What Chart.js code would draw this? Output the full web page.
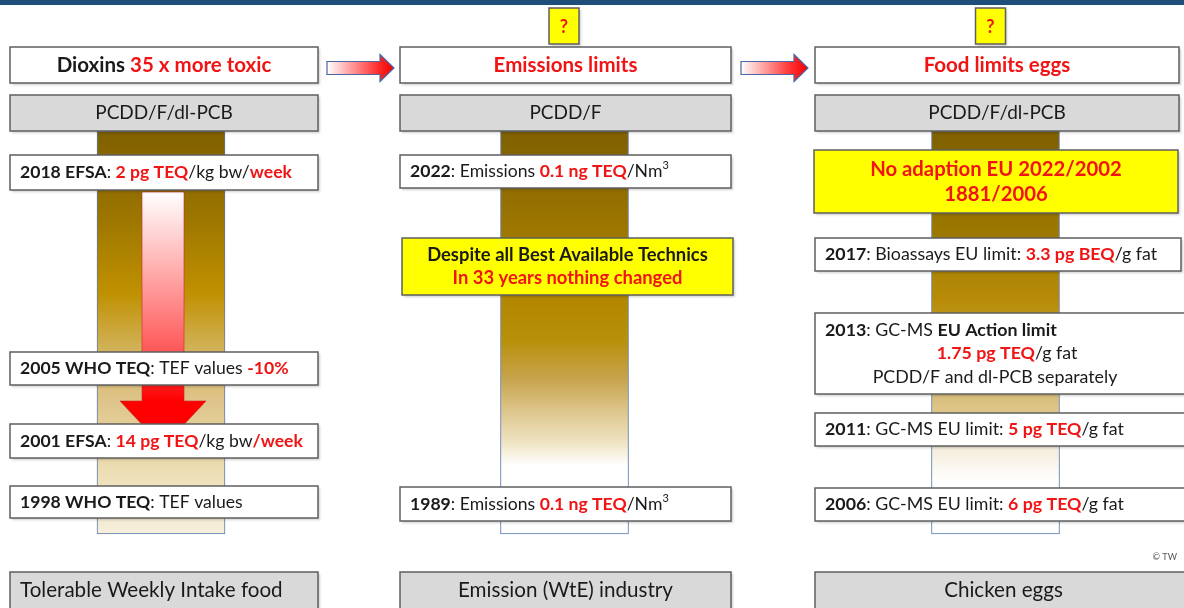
<!DOCTYPE html>
<html>
<head>
<meta charset="utf-8">
<script src="https://cdn.jsdelivr.net/npm/chart.js@4.4.1/dist/chart.umd.min.js"></script>
<style>
html, body { margin: 0; padding: 0; background: #fff; overflow: hidden; }
#wrap { width: 1184px; height: 608px; }
</style>
</head>
<body>
<div id="wrap"><canvas id="myChart" width="1184" height="608"></canvas></div>
<script>
// texts: *bold*, {bold red}, ^superscript
const footerLabels = ['Tolerable Weekly Intake food', 'Emission (WtE) industry', 'Chicken eggs'];
const headerTexts = ['*Dioxins *{35 x more toxic}', '{Emissions limits}', '{Food limits eggs}'];
const groupLabels = ['PCDD/F/dl-PCB', 'PCDD/F', 'PCDD/F/dl-PCB'];
const questionMarks = ['', '?', '?'];

const foodEntries = [
    '*2018 EFSA*: {2 pg TEQ}/kg bw/{week}',
    '*2005 WHO TEQ*: TEF values {-10%}',
    '*2001 EFSA*: {14 pg TEQ}/kg bw{/week}',
    '*1998 WHO TEQ*: TEF values'
];
const emissionEntries = [
    '*2022*: Emissions {0.1 ng TEQ}/Nm^3',
    '*1989*: Emissions {0.1 ng TEQ}/Nm^3'
];
const emissionNote = ['*Despite all Best Available Technics*', '{In 33 years nothing changed}'];
const eggEntries = [
    ['*2017*: Bioassays EU limit: {3.3 pg BEQ}/g fat'],
    ['*2013*: GC-MS *EU Action limit*', '{1.75 pg TEQ}/g fat', 'PCDD/F and dl-PCB separately'],
    ['*2011*: GC-MS EU limit: {5 pg TEQ}/g fat'],
    ['*2006*: GC-MS EU limit: {6 pg TEQ}/g fat']
];
const eggNote = ['{No adaption EU 2022/2002}', '{1881/2006}'];
const credit = '\u00A9 TW';

// layout (page units, mapped through the chart scales)
const colCenter = [161, 564.5, 995.5];
const colSpan = [131, 534];
const boxX = [[10, 318], [400, 731], [815, 1179]];
const headerY = [47, 83];
const groupY = [95, 131];
const footerY = [572, 625];
const foodRows = [[155, 190], [352, 385], [424, 458], [486, 518]];
const emissionRows = [[155, 188], [487, 521]];
const emissionNoteBox = [402, 733, 238, 295];
const eggRows = [[238, 271, 1181], [313, 394, 1192], [413, 446, 1192], [488, 521, 1192]];
const eggNoteBox = [814, 1178, 150, 213];

const colStops = [
    [[0, '#7f6000'], [0.2, '#9a7400'], [0.4, '#bf9000'], [0.55, '#d3b45e'], [0.67, '#dec48a'], [0.78, '#e8d6a4'], [1, '#f6efdc']],
    [[0, '#7f6000'], [0.42, '#b38700'], [0.52, '#b8900a'], [0.62, '#c8a550'], [0.69, '#dcc488'], [0.77, '#eee2c0'], [0.83, '#ffffff'], [1, '#ffffff']],
    [[0, '#7f6000'], [0.25, '#9c7800'], [0.42, '#b88c08'], [0.62, '#d2b66a'], [0.71, '#e0c890'], [0.79, '#f5eedd'], [0.87, '#ffffff'], [1, '#ffffff']]
];

const FONT = 'Lato, "Open Sans", sans-serif';
const RED = '#f01414';
const INK = '#1a1a1a';

function parse(s) {
    const out = [];
    let cur = '', bold = false, red = false, sup = false;
    for (const ch of s) {
        if (ch === '*' || ch === '{' || ch === '}' || ch === '^') {
            if (cur) out.push({ t: cur, bold: bold || red, red, sup });
            cur = '';
            if (ch === '*') bold = !bold;
            else if (ch === '{') red = true;
            else if (ch === '}') red = false;
            else sup = true;
            continue;
        }
        cur += ch;
    }
    if (cur) out.push({ t: cur, bold: bold || red, red, sup });
    return out;
}

function drawRich(ctx, text, x, y, align, size, baseBold) {
    const segs = parse(text);
    const fontOf = s => (s.bold || baseBold ? 'bold ' : '') + (s.sup ? Math.round(size * 0.62) : size) + 'px ' + FONT;
    let total = 0;
    segs.forEach(s => { ctx.font = fontOf(s); s.w = ctx.measureText(s.t).width; total += s.w; });
    let cx = align === 'left' ? x : x - total / 2;
    ctx.textAlign = 'left';
    ctx.textBaseline = 'middle';
    segs.forEach(s => {
        ctx.font = fontOf(s);
        ctx.fillStyle = s.red ? RED : INK;
        ctx.fillText(s.t, cx, s.sup ? y - size * 0.33 : y);
        cx += s.w;
    });
}

function box(ctx, x, y, x0, x1, y0, y1, fill) {
    const px0 = x.getPixelForValue(x0), px1 = x.getPixelForValue(x1);
    const py0 = y.getPixelForValue(y0), py1 = y.getPixelForValue(y1);
    ctx.save();
    ctx.shadowColor = 'rgba(0,0,0,0.18)';
    ctx.shadowOffsetX = 1.5;
    ctx.shadowOffsetY = 1.5;
    ctx.shadowBlur = 2;
    ctx.fillStyle = fill;
    ctx.fillRect(px0, py0, px1 - px0, py1 - py0);
    ctx.restore();
    ctx.strokeStyle = '#5f5f5f';
    ctx.lineWidth = 1.5;
    ctx.strokeRect(px0, py0, px1 - px0, py1 - py0);
    return { px0, px1, py0, py1, cy: (py0 + py1) / 2, cx: (px0 + px1) / 2 };
}

function sideArrow(ctx, x, y, x0, x1, yc) {
    const a = x.getPixelForValue(x0), b = x.getPixelForValue(x1), c = y.getPixelForValue(yc);
    const head = 14;
    const g = ctx.createLinearGradient(a, 0, b, 0);
    g.addColorStop(0, '#ffffff');
    g.addColorStop(0.75, '#ff3030');
    g.addColorStop(1, '#ee0000');
    ctx.beginPath();
    ctx.moveTo(a, c - 6.5);
    ctx.lineTo(b - head, c - 6.5);
    ctx.lineTo(b - head, c - 13.5);
    ctx.lineTo(b, c);
    ctx.lineTo(b - head, c + 13.5);
    ctx.lineTo(b - head, c + 6.5);
    ctx.lineTo(a, c + 6.5);
    ctx.closePath();
    ctx.fillStyle = g;
    ctx.fill();
    ctx.strokeStyle = '#4a67a3';
    ctx.lineWidth = 1.2;
    ctx.stroke();
}

function downArrow(ctx, x, y) {
    const cx = x.getPixelForValue(163), top = y.getPixelForValue(192);
    const neck = y.getPixelForValue(401), tip = y.getPixelForValue(447);
    const g = ctx.createLinearGradient(0, top, 0, neck);
    g.addColorStop(0, '#ffffff');
    g.addColorStop(0.75, '#ff5a5a');
    g.addColorStop(1, '#ff0000');
    ctx.beginPath();
    ctx.moveTo(cx - 21, top);
    ctx.lineTo(cx + 21, top);
    ctx.lineTo(cx + 21, neck);
    ctx.lineTo(cx + 43, neck);
    ctx.lineTo(cx, tip);
    ctx.lineTo(cx - 43, neck);
    ctx.lineTo(cx - 21, neck);
    ctx.closePath();
    ctx.fillStyle = g;
    ctx.fill();
    ctx.strokeStyle = 'rgba(200,40,40,0.6)';
    ctx.lineWidth = 1;
    ctx.stroke();
}

const infographic = {
    id: 'infographic',
    beforeDatasetsDraw(chart) {
        const { ctx, scales: { x, y } } = chart;
        ctx.fillStyle = '#1f4e79';
        ctx.fillRect(0, y.getPixelForValue(0), chart.width, y.getPixelForValue(5) - y.getPixelForValue(0));
    },
    afterDatasetsDraw(chart) {
        const { ctx, scales: { x, y } } = chart;
        ctx.save();
        downArrow(ctx, x, y);
        sideArrow(ctx, x, y, 327, 394, 68);
        sideArrow(ctx, x, y, 741, 808, 68);

        for (let i = 0; i < 3; i++) {
            const [x0, x1] = boxX[i];
            let b = box(ctx, x, y, x0, x1, headerY[0], headerY[1], '#ffffff');
            drawRich(ctx, headerTexts[i], b.cx, b.cy, 'center', 20.5, true);
            b = box(ctx, x, y, x0, x1, groupY[0], groupY[1], '#d9d9d9');
            drawRich(ctx, groupLabels[i], b.cx, b.cy, 'center', 19);
            b = box(ctx, x, y, x0, i === 2 ? 1192 : x1, footerY[0], footerY[1], '#d9d9d9');
            const fy = y.getPixelForValue(590);
            if (i === 0) drawRich(ctx, footerLabels[i], b.px0 + 10, fy, 'left', 20.6);
            else drawRich(ctx, footerLabels[i], b.cx, fy, 'center', 20.6);
            if (questionMarks[i]) {
                const qc = colCenter[i] + (i === 1 ? -0.5 : -5);
                b = box(ctx, x, y, qc - 15, qc + 15, 8, 44, '#ffff00');
                drawRich(ctx, '{' + questionMarks[i] + '}', b.cx, b.cy + 1, 'center', 18);
            }
        }

        foodEntries.forEach((t, k) => {
            const b = box(ctx, x, y, boxX[0][0], boxX[0][1], foodRows[k][0], foodRows[k][1], '#ffffff');
            drawRich(ctx, t, b.px0 + 10, b.cy, 'left', 17.6);
        });
        emissionEntries.forEach((t, k) => {
            const b = box(ctx, x, y, boxX[1][0], boxX[1][1], emissionRows[k][0], emissionRows[k][1], '#ffffff');
            drawRich(ctx, t, b.px0 + 10, b.cy, 'left', 17.6);
        });
        let nb = box(ctx, x, y, emissionNoteBox[0], emissionNoteBox[1], emissionNoteBox[2], emissionNoteBox[3], '#ffff00');
        drawRich(ctx, emissionNote[0], nb.cx, nb.cy - 11.5, 'center', 18.4);
        drawRich(ctx, emissionNote[1], nb.cx, nb.cy + 11.5, 'center', 18.4);

        nb = box(ctx, x, y, eggNoteBox[0], eggNoteBox[1], eggNoteBox[2], eggNoteBox[3], '#ffff00');
        drawRich(ctx, eggNote[0], nb.cx, nb.cy - 12.5, 'center', 20.3);
        drawRich(ctx, eggNote[1], nb.cx, nb.cy + 12.5, 'center', 20.3);

        eggEntries.forEach((lines, k) => {
            const r = eggRows[k];
            const b = box(ctx, x, y, boxX[2][0], r[2], r[0], r[1], '#ffffff');
            if (lines.length === 1) {
                drawRich(ctx, lines[0], b.px0 + 10, b.cy, 'left', 17.8);
            } else {
                drawRich(ctx, lines[0], b.px0 + 10, b.cy - 23.5, 'left', 17.8);
                drawRich(ctx, lines[1], x.getPixelForValue(1007), b.cy, 'center', 17.8);
                drawRich(ctx, lines[2], x.getPixelForValue(995), b.cy + 24, 'center', 17.8);
            }
        });

        ctx.font = '9px ' + FONT;
        ctx.fillStyle = '#555555';
        ctx.textAlign = 'right';
        ctx.textBaseline = 'middle';
        ctx.fillText(credit, x.getPixelForValue(1177), y.getPixelForValue(557));
        ctx.restore();
    }
};

const ctx = document.getElementById('myChart').getContext('2d');
const myChart = new Chart(ctx, {
    type: 'bar',
    data: {
        datasets: [{
            label: 'columns',
            data: colCenter.map(c => ({ x: c, y: colSpan })),
            barThickness: 128,
            backgroundColor: (context) => {
                const chart = context.chart;
                if (!chart.chartArea || context.dataIndex === undefined) return '#bf9000';
                const ys = chart.scales.y;
                const g = chart.ctx.createLinearGradient(0, ys.getPixelForValue(colSpan[0]), 0, ys.getPixelForValue(colSpan[1]));
                colStops[context.dataIndex].forEach(s => g.addColorStop(s[0], s[1]));
                return g;
            },
            borderColor: '#5b79ad',
            borderWidth: 1,
            borderSkipped: false
        }]
    },
    options: {
        responsive: false,
        animation: false,
        layout: { padding: 0 },
        plugins: { legend: { display: false }, tooltip: { enabled: false } },
        scales: {
            x: { type: 'linear', min: 0, max: 1184, offset: false, display: false },
            y: { type: 'linear', min: 0, max: 608, reverse: true, offset: false, display: false }
        }
    },
    plugins: [infographic]
});
</script>
</body>
</html>
